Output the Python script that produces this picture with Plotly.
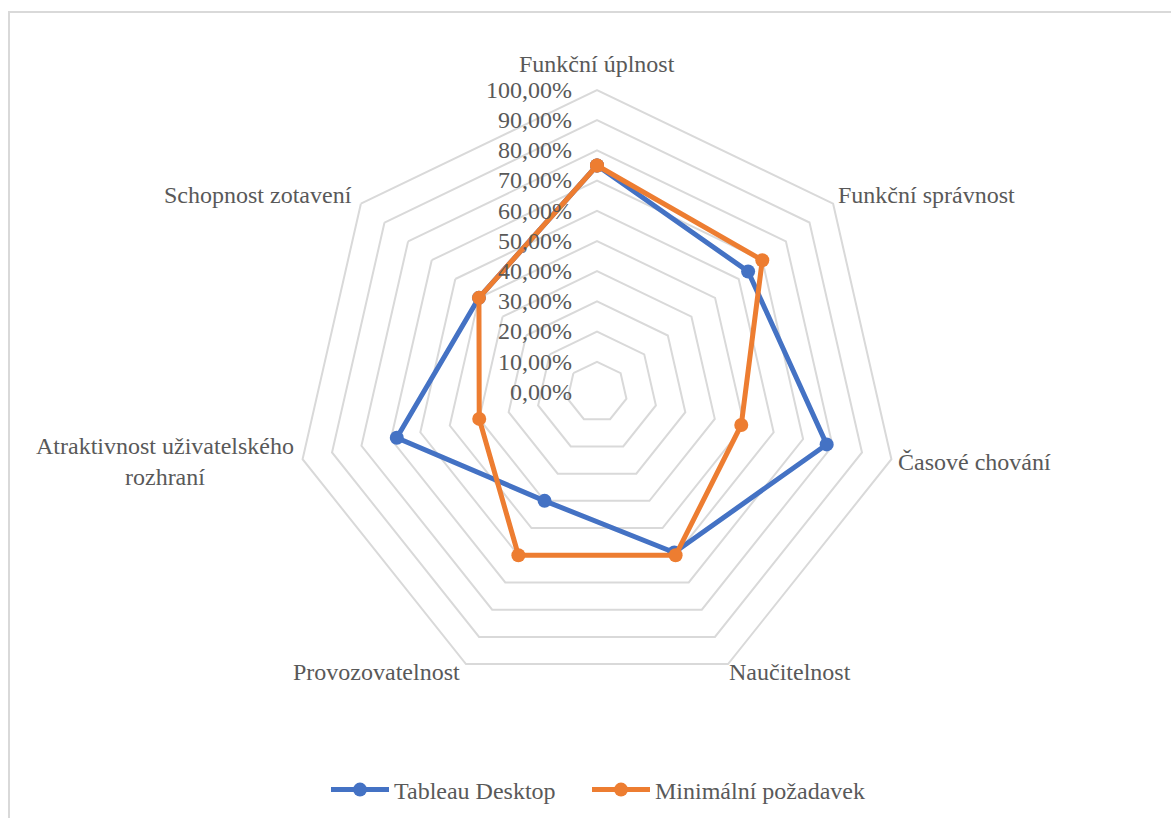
import math
import plotly.graph_objects as go

# Quality criteria (clockwise from the top)
categories = [
    "Funkční úplnost",
    "Funkční správnost",
    "Časové chování",
    "Naučitelnost",
    "Provozovatelnost",
    "Atraktivnost uživatelského<br>rozhraní",
    "Schopnost zotavení",
]

tableau_desktop = [0.75, 0.64, 0.78, 0.59, 0.40, 0.68, 0.50]
minimalni_pozadavek = [0.75, 0.70, 0.49, 0.60, 0.60, 0.40, 0.50]

radial_ticks = [0.0, 0.1, 0.2, 0.3, 0.4, 0.5, 0.6, 0.7, 0.8, 0.9, 1.0]

BLUE = "#4472C4"
ORANGE = "#ED7D31"
GRID = "#D9D9D9"
TEXT = "#595959"
FONT = "'Liberation Serif', 'Times New Roman', 'DejaVu Serif', serif"
FS = 24

W, H = 1171, 818


def closed(values):
    return list(values) + [values[0]]


fig = go.Figure()
for name, vals, col, leg in [
    ("Tableau Desktop", tableau_desktop, BLUE, "legend"),
    ("Minimální požadavek", minimalni_pozadavek, ORANGE, "legend2"),
]:
    fig.add_trace(go.Scatterpolar(
        r=closed(vals),
        theta=closed(categories),
        name=name,
        legend=leg,
        showlegend=True,
        mode="lines+markers",
        line=dict(color=col, width=5),
        marker=dict(color=col, size=14),
    ))

# polar area: centre (597, 392), outer radius ~302 px
cx, cy, rad = 597, 392, 302

# category labels sit just outside each vertex of the outer ring:
# (xanchor, horizontal offset px, vertical offset px)
label_place = [
    ("center", 0, -26),
    ("left", 4, -9),
    ("left", 6, 3),
    ("left", 0, 8),
    ("right", -5, 8),
    ("right", -8, 2),
    ("right", -8, -9),
]
annotations = []
n = len(categories)
for i, (cat, (xa, dx, dy)) in enumerate(zip(categories, label_place)):
    ang = math.radians(90 - i * 360 / n)
    vx = cx + rad * math.cos(ang)
    vy = cy - rad * math.sin(ang)
    annotations.append(dict(
        text=cat,
        xref="paper", yref="paper",
        x=(vx + dx) / W, y=1 - (vy + dy) / H,
        xanchor=xa, yanchor="middle",
        align="center",
        showarrow=False,
        borderpad=0,
        font=dict(family=FONT, color=TEXT, size=FS),
    ))

legend_style = dict(
    orientation="h",
    y=1 - 790 / H,
    xanchor="left",
    yanchor="middle",
    itemwidth=58,
    font=dict(family=FONT, color=TEXT, size=FS),
    bgcolor="rgba(0,0,0,0)",
)

fig.update_layout(
    width=W,
    height=H,
    showlegend=True,
    margin=dict(l=0, r=0, t=0, b=0),
    paper_bgcolor="white",
    plot_bgcolor="white",
    separators=", ",
    font=dict(family=FONT, color=TEXT, size=FS),
    polar=dict(
        domain=dict(x=[(cx - rad) / W, (cx + rad) / W],
                    y=[1 - (cy + rad) / H, 1 - (cy - rad) / H]),
        gridshape="linear",
        bgcolor="white",
        angularaxis=dict(
            rotation=90,
            direction="clockwise",
            showgrid=False,
            linecolor=GRID,
            linewidth=2,
            ticks="",
            showticklabels=False,
        ),
        radialaxis=dict(
            range=[0, 1],
            tickvals=radial_ticks,
            tickformat=".2%",
            tickangle=90,
            angle=90,
            side="counterclockwise",
            showline=False,
            gridcolor=GRID,
            gridwidth=2,
            ticks="outside",
            ticklen=16,
            tickcolor="rgba(0,0,0,0)",
            tickfont=dict(family=FONT, color=TEXT, size=FS),
        ),
    ),
    legend=dict(x=326 / W, visible=True, **legend_style),
    legend2=dict(x=587 / W, visible=True, **legend_style),
    annotations=annotations,
    shapes=[dict(
        type="rect",
        xref="paper", yref="paper",
        x0=9 / W, x1=1.02,
        y0=-0.02, y1=1 - 12 / H,
        line=dict(color=GRID, width=2),
        fillcolor="rgba(0,0,0,0)",
        layer="below",
    )],
)

fig.write_html("out.html")
